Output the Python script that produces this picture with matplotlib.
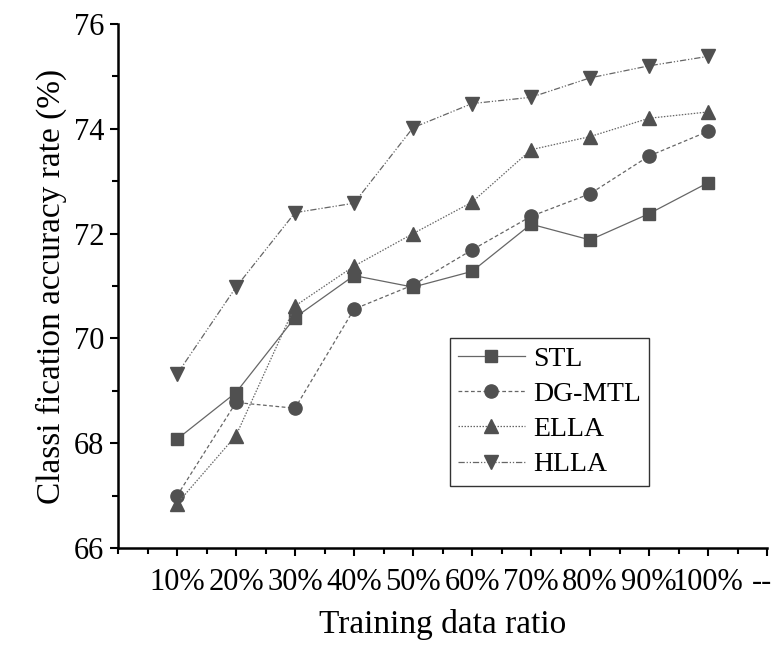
import matplotlib.pyplot as plt
import matplotlib.transforms as mtransforms
from matplotlib.ticker import MultipleLocator

plt.rcParams['font.family'] = ['Liberation Serif', 'DejaVu Serif']

# data
ratios = ['10%', '20%', '30%', '40%', '50%', '60%', '70%', '80%', '90%', '100%']
stl = [68.08, 68.97, 70.40, 71.20, 70.98, 71.28, 72.18, 71.88, 72.38, 72.97]
dg_mtl = [67.00, 68.78, 68.67, 70.56, 71.02, 71.69, 72.33, 72.76, 73.48, 73.95]
ella = [66.85, 68.15, 70.62, 71.38, 72.00, 72.60, 73.60, 73.85, 74.20, 74.32]
hlla = [69.32, 70.98, 72.40, 72.58, 74.02, 74.48, 74.60, 74.97, 75.20, 75.38]

x = list(range(1, len(ratios) + 1))

fig = plt.figure(figsize=(7.74, 6.45), dpi=100)
ax = fig.add_axes([0.1525, 0.150, 0.8385, 0.813])

mcol = '#505050'
lcol = '#666666'
series = [
    ('STL', stl, 's', '-', 8.5),
    ('DG-MTL', dg_mtl, 'o', (0, (3, 2)), 9.5),
    ('ELLA', ella, '^', (0, (1.2, 1.2)), 10),
    ('HLLA', hlla, 'v', (0, (5, 1.5, 1, 1.5, 1, 1.5)), 10),
]
for name, vals, mk, ls, ms in series:
    ax.plot(x, vals, color=lcol, linestyle=ls, linewidth=0.9,
            marker=mk, markersize=ms, markerfacecolor=mcol,
            markeredgecolor=mcol, label=name)

ax.set_xlim(0, 11)
ax.set_ylim(66, 76)
ax.set_xticks(x + [11])
ax.set_xticklabels(ratios + ['--'])
ax.xaxis.set_minor_locator(MultipleLocator(0.5))
ax.yaxis.set_major_locator(MultipleLocator(2))
ax.yaxis.set_minor_locator(MultipleLocator(1))

for side in ['top', 'right']:
    ax.spines[side].set_visible(False)
for side in ['left', 'bottom']:
    ax.spines[side].set_linewidth(1.8)

ax.tick_params(axis='both', which='major', direction='out', length=6, width=1.5,
               labelsize=22, pad=4)
ax.tick_params(axis='both', which='minor', direction='out', length=4, width=1.5)
ax.tick_params(axis='x', which='major', pad=8)

# the trailing "--" label sits at the very edge; nudge it left a little
last = ax.get_xticklabels()[-1]
last.set_transform(last.get_transform() +
                   mtransforms.ScaledTranslation(-5 / 100, 0, fig.dpi_scale_trans))

ax.set_xlabel('Training data ratio', fontsize=24, labelpad=9)
ax.set_ylabel('Classi fication accuracy rate (%)', fontsize=24, labelpad=5)

leg = ax.legend(loc='upper left', bbox_to_anchor=(0.511, 0.401), fontsize=20,
                frameon=True, fancybox=False, edgecolor='black',
                handlelength=2.4, handletextpad=0.3, labelspacing=0.35,
                borderpad=0.3, borderaxespad=0)
leg.get_frame().set_linewidth(1.0)

fig.savefig('out.png', dpi=100)
